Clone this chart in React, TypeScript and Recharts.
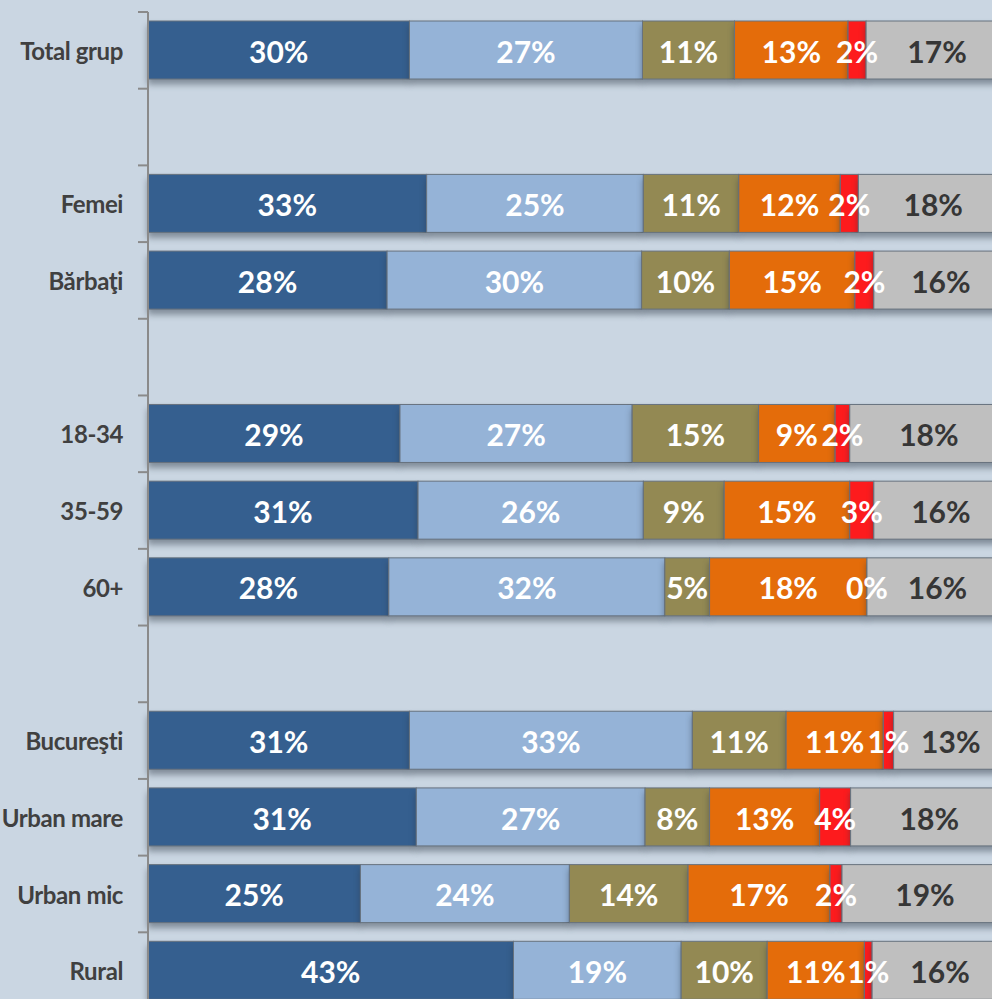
import React from 'react';
import { BarChart, Bar, XAxis, YAxis, LabelList } from 'recharts';

// ---- data ----
const categories = ['Total grup', '', 'Femei', 'Bărbaţi', '', '18-34', '35-59', '60+', '', 'Bucureşti', 'Urban mare', 'Urban mic', 'Rural'];

const seriesNames = ['Categoria 1', 'Categoria 2', 'Categoria 3', 'Categoria 4', 'Categoria 5', 'Categoria 6'];

const darkBlueValues = [30.4, null, 32.4, 27.8, null, 29.3, 31.4, 28.0, null, 30.4, 31.2, 24.7, 42.5];
const lightBlueValues = [27.1, null, 25.2, 29.6, null, 27.0, 26.2, 32.1, null, 32.9, 26.6, 24.3, 19.5];
const oliveValues = [10.7, null, 11.1, 10.2, null, 14.7, 9.4, 5.2, null, 10.9, 7.5, 13.8, 10.0];
const orangeValues = [13.2, null, 11.8, 14.6, null, 8.9, 14.6, 18.3, null, 11.3, 12.8, 16.5, 11.3];
const redValues = [2.1, null, 2.1, 2.2, null, 1.7, 2.8, 0, null, 1.2, 3.6, 1.4, 0.9];
const grayValues = [16.5, null, 17.4, 15.6, null, 18.4, 15.6, 16.4, null, 13.3, 18.3, 19.3, 15.8];

const darkBlueLabels = ['30%', '', '33%', '28%', '', '29%', '31%', '28%', '', '31%', '31%', '25%', '43%'];
const lightBlueLabels = ['27%', '', '25%', '30%', '', '27%', '26%', '32%', '', '33%', '27%', '24%', '19%'];
const oliveLabels = ['11%', '', '11%', '10%', '', '15%', '9%', '5%', '', '11%', '8%', '14%', '10%'];
const orangeLabels = ['13%', '', '12%', '15%', '', '9%', '15%', '18%', '', '11%', '13%', '17%', '11%'];
const redLabels = ['2%', '', '2%', '2%', '', '2%', '3%', '0%', '', '1%', '4%', '2%', '1%'];
const grayLabels = ['17%', '', '18%', '16%', '', '18%', '16%', '16%', '', '13%', '18%', '19%', '16%'];

const valueSets = [darkBlueValues, lightBlueValues, oliveValues, orangeValues, redValues, grayValues];
const labelSets = [darkBlueLabels, lightBlueLabels, oliveLabels, orangeLabels, redLabels, grayLabels];

// ---- styles ----
const COLORS = ['#355f8f', '#95b3d7', '#938953', '#e46c0a', '#fd1b1d', '#bfbfbf'];
const LABEL_COLORS = ['#ffffff', '#ffffff', '#ffffff', '#ffffff', '#ffffff', '#363636'];
const BG = '#cad6e2';
const AXIS = '#8a8a8a';
const FONT = "Lato, 'Open Sans', sans-serif";

const CHART_W = 1030;
const CHART_H = 1030;
const MARGIN = { top: 12, right: 22, bottom: 21, left: 0 };
const PLOT_H = CHART_H - MARGIN.top - MARGIN.bottom;
const BAND = PLOT_H / categories.length;

const rows = categories.map((name, i) => {
  const row: Record<string, any> = { key: `c${i}`, name };
  valueSets.forEach((vals, s) => {
    row[`v${s}`] = vals[i];
    row[`l${s}`] = labelSets[s][i];
  });
  return row;
});

const SegShape = (props: any) => {
  const { x, y, width, height, fill } = props;
  if (!width || width <= 0 || !height) return null;
  return (
    <rect
      x={x}
      y={y}
      width={width}
      height={height}
      fill={fill}
      stroke="#67727e"
      strokeWidth={1}
      style={{ filter: 'drop-shadow(0px 5px 3px rgba(40,50,65,0.45))' }}
    />
  );
};

const CatTick = (props: any) => {
  const { x, y, index } = props;
  const label = categories[index];
  return (
    <g>
      <line x1={x - 10} x2={x} y1={y - BAND / 2} y2={y - BAND / 2} stroke={AXIS} strokeWidth={2} />
      {label ? (
        <text
          x={x - 25}
          y={y + 1}
          dy="0.36em"
          textAnchor="end"
          fontFamily={FONT}
          fontWeight={700}
          fontSize={24}
          letterSpacing={-0.4}
          fill="#404040"
        >
          {label}
        </text>
      ) : null}
    </g>
  );
};

export default function App() {
  return (
    <div
      style={{
        position: 'absolute',
        left: 0,
        top: 0,
        width: 992,
        height: 999,
        overflow: 'hidden',
        background: BG,
      }}
    >
      <BarChart
        width={CHART_W}
        height={CHART_H}
        data={rows}
        layout="vertical"
        margin={MARGIN}
        barSize={58}
        barGap={0}
      >
        <XAxis type="number" domain={[0, 100]} hide />
        <YAxis
          type="category"
          dataKey="key"
          width={148}
          interval={0}
          tickSize={0}
          tickMargin={0}
          tickLine={false}
          axisLine={{ stroke: AXIS, strokeWidth: 2 }}
          tick={<CatTick />}
        />
        {seriesNames.map((n, s) => (
          <Bar
            key={n}
            name={n}
            dataKey={`v${s}`}
            stackId="a"
            fill={COLORS[s]}
            shape={<SegShape />}
            isAnimationActive={false}
          >
            <LabelList
              dataKey={`l${s}`}
              position="center"
              fill={LABEL_COLORS[s]}
              fontSize={30}
              fontWeight={700}
              fontFamily={FONT}
              dy={2}
            />
          </Bar>
        ))}
      </BarChart>
    </div>
  );
}
